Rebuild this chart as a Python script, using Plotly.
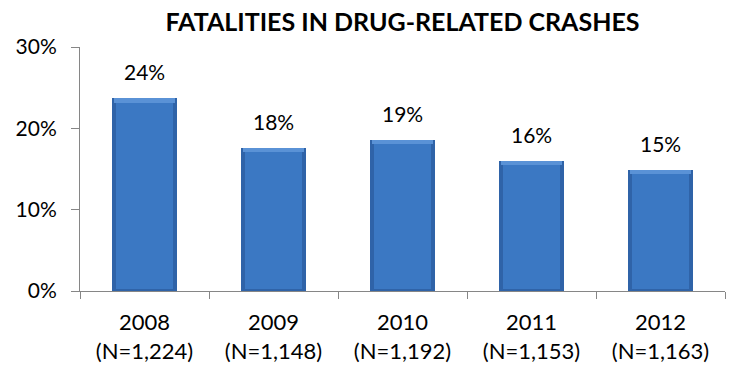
import plotly.graph_objects as go

# Share of fatalities in drug-related crashes, by year
years = ["2008", "2009", "2010", "2011", "2012"]
counts = ["1,224", "1,148", "1,192", "1,153", "1,163"]
shares = [23.7, 17.6, 18.6, 16.0, 14.9]

categories = [f"{y}<br>(N={n})" for y, n in zip(years, counts)]

FONT = "Lato, Calibri, Arial, sans-serif"
BAR_W = 0.51
EDGE_X = 0.035  # bevel thickness across a category
EDGE_Y = 0.55   # bevel thickness in percentage points

fig = go.Figure()

# darker outer body (side and bottom bevels)
fig.add_trace(go.Bar(
    x=categories, y=shares, width=BAR_W,
    marker=dict(color="#2F63A8", line=dict(width=0)),
    hoverinfo="skip", showlegend=False,
))
# lighter top bevel
fig.add_trace(go.Bar(
    x=categories, y=[EDGE_Y] * len(shares), base=[v - EDGE_Y for v in shares],
    width=BAR_W - EDGE_X,
    marker=dict(color="#5A92D6", line=dict(width=0)),
    hoverinfo="skip", showlegend=False,
))
# main face
fig.add_trace(go.Bar(
    x=categories, y=[v - 1.5 * EDGE_Y for v in shares], base=[EDGE_Y * 0.5] * len(shares),
    width=BAR_W - 2 * EDGE_X,
    marker=dict(color="#3B78C3", line=dict(width=0)),
    hovertemplate="%{x}: %{customdata:.1f}%<extra></extra>",
    customdata=shares, showlegend=False,
))

for cat, v in zip(categories, shares):
    fig.add_annotation(
        x=cat, y=v, text=f"{v:.0f}%", showarrow=False,
        yanchor="bottom", yshift=12,
        font=dict(family=FONT, size=21, color="#000000"),
    )

fig.update_layout(
    width=729, height=370,
    margin=dict(l=80, r=4, t=47, b=79),
    paper_bgcolor="white", plot_bgcolor="white",
    barmode="overlay", bargap=0,
    title=dict(
        text="<b>FATALITIES IN DRUG-RELATED CRASHES</b>",
        x=0.5, xref="paper", xanchor="center",
        y=0.94, yref="container", yanchor="middle",
        font=dict(family=FONT, size=25, color="#000000"),
    ),
    font=dict(family=FONT, size=21, color="#000000"),
)

fig.update_yaxes(
    range=[0, 30], dtick=10, ticksuffix="%",
    showgrid=False, zeroline=False,
    showline=True, linecolor="#868686", linewidth=1,
    ticks="outside", ticklen=8, tickcolor="#868686",
    ticklabelstandoff=10,
    tickfont=dict(family=FONT, size=21, color="#000000"),
)
fig.update_xaxes(
    type="category", tickson="boundaries",
    showgrid=False, showline=True, linecolor="#868686", linewidth=1,
    ticks="outside", ticklen=7, tickcolor="#868686",
    ticklabelstandoff=12,
    tickfont=dict(family=FONT, size=22, color="#000000"),
)

fig.write_html("out.html")
